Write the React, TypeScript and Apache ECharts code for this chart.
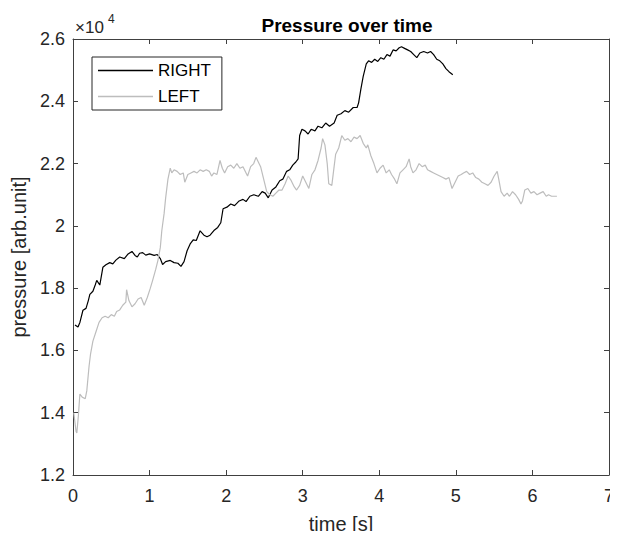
import React, { useEffect, useRef } from "react";
import * as echarts from "echarts";

const rightTime = [0.026, 0.065, 0.09, 0.13, 0.17, 0.2, 0.22, 0.26, 0.29, 0.31, 0.35, 0.39, 0.43, 0.48, 0.52, 0.56, 0.61, 0.67, 0.72, 0.77, 0.81, 0.84, 0.87, 0.91, 0.95, 1.0, 1.06, 1.1, 1.14, 1.17, 1.21, 1.27, 1.32, 1.37, 1.41, 1.45, 1.49, 1.53, 1.57, 1.61, 1.66, 1.71, 1.75, 1.79, 1.84, 1.89, 1.93, 1.96, 2.01, 2.06, 2.11, 2.17, 2.22, 2.26, 2.31, 2.36, 2.42, 2.47, 2.51, 2.55, 2.6, 2.65, 2.7, 2.74, 2.79, 2.83, 2.87, 2.91, 2.94, 2.96, 2.99, 3.03, 3.07, 3.11, 3.16, 3.2, 3.25, 3.3, 3.35, 3.41, 3.45, 3.5, 3.55, 3.6, 3.66, 3.71, 3.73, 3.76, 3.79, 3.83, 3.86, 3.9, 3.94, 3.98, 4.02, 4.06, 4.1, 4.14, 4.18, 4.22, 4.26, 4.29, 4.33, 4.37, 4.41, 4.45, 4.49, 4.53, 4.58, 4.63, 4.67, 4.71, 4.75, 4.79, 4.83, 4.87, 4.91, 4.96];
const rightPressure = [16820, 16750, 16900, 17290, 17350, 17600, 17800, 17900, 18100, 18250, 18100, 18670, 18750, 18820, 18780, 18900, 19000, 18950, 19100, 19180, 19050, 19000, 19120, 19140, 19060, 19100, 19050, 19080, 18950, 18760, 18850, 18890, 18820, 18800, 18700, 18850, 19200, 19420, 19550, 19530, 19840, 19700, 19650, 19700, 19850, 19950, 20100, 20550, 20600, 20700, 20650, 20800, 20850, 20780, 20950, 21000, 20950, 21100, 21050, 20900, 21150, 21250, 21450, 21500, 21750, 21800, 21950, 22050, 22150, 22900, 23100, 23050, 22950, 23100, 23050, 23200, 23150, 23300, 23200, 23300, 23550, 23600, 23700, 23650, 23800, 23800, 23950, 24400, 24800, 25200, 25300, 25250, 25350, 25280, 25400, 25350, 25500, 25450, 25650, 25620, 25720, 25750, 25700, 25650, 25600, 25500, 25400, 25550, 25600, 25550, 25600, 25500, 25350, 25300, 25200, 25050, 24950, 24850];

const leftTime = [0.01, 0.04, 0.05, 0.07, 0.09, 0.12, 0.16, 0.18, 0.21, 0.23, 0.26, 0.3, 0.34, 0.38, 0.42, 0.46, 0.5, 0.54, 0.57, 0.61, 0.65, 0.69, 0.7, 0.73, 0.77, 0.81, 0.85, 0.89, 0.93, 0.97, 1.01, 1.04, 1.08, 1.11, 1.14, 1.16, 1.19, 1.21, 1.24, 1.27, 1.29, 1.32, 1.36, 1.4, 1.44, 1.46, 1.5, 1.54, 1.58, 1.62, 1.66, 1.7, 1.74, 1.78, 1.81, 1.84, 1.88, 1.92, 1.95, 1.98, 2.02, 2.06, 2.1, 2.14, 2.18, 2.22, 2.26, 2.28, 2.32, 2.36, 2.39, 2.42, 2.45, 2.49, 2.53, 2.57, 2.61, 2.65, 2.69, 2.73, 2.77, 2.81, 2.85, 2.89, 2.92, 2.96, 3.0, 3.04, 3.08, 3.12, 3.16, 3.2, 3.24, 3.26, 3.29, 3.32, 3.34, 3.38, 3.41, 3.43, 3.47, 3.51, 3.55, 3.59, 3.63, 3.67, 3.71, 3.75, 3.79, 3.83, 3.85, 3.89, 3.93, 3.97, 4.01, 4.05, 4.09, 4.13, 4.16, 4.2, 4.23, 4.27, 4.31, 4.35, 4.39, 4.41, 4.44, 4.48, 4.52, 4.56, 4.6, 4.63, 4.67, 4.71, 4.75, 4.79, 4.83, 4.87, 4.91, 4.95, 4.99, 5.03, 5.07, 5.1, 5.14, 5.18, 5.22, 5.26, 5.3, 5.34, 5.38, 5.42, 5.46, 5.5, 5.54, 5.56, 5.59, 5.63, 5.67, 5.7, 5.74, 5.78, 5.82, 5.85, 5.87, 5.9, 5.94, 5.98, 6.02, 6.06, 6.1, 6.14, 6.18, 6.21, 6.25, 6.29, 6.32];
const leftPressure = [14000, 13400, 13350, 13900, 14600, 14500, 14450, 14700, 15500, 15900, 16300, 16600, 16900, 17050, 17100, 17050, 17150, 17100, 17250, 17300, 17450, 17550, 17950, 17600, 17400, 17500, 17650, 17700, 17450, 17700, 18000, 18250, 18600, 18900, 19300, 19850, 20400, 20900, 21500, 21850, 21700, 21800, 21750, 21650, 21700, 21400, 21650, 21700, 21750, 21700, 21800, 21750, 21800, 21750, 21600, 21700, 21650, 22100, 21850, 21700, 21900, 21950, 21850, 22000, 21850, 21900, 21700, 21600, 21900, 22000, 22200, 22050, 21900, 21500, 21100, 21000, 20950, 21050, 21150, 21150, 21350, 21600, 21450, 21250, 21150, 21300, 21600, 21400, 21200, 21650, 21800, 22100, 22500, 22800, 22600, 22000, 21350, 21300, 21900, 22300, 22500, 22900, 22750, 22800, 22700, 22850, 22800, 22900, 22650, 22500, 22600, 22250, 22000, 21700, 21850, 21950, 21700, 21800, 21650, 21500, 21350, 21700, 21800, 21900, 22150, 21900, 21700, 21800, 22000, 21900, 21950, 21800, 21750, 21700, 21650, 21600, 21550, 21500, 21550, 21200, 21400, 21600, 21650, 21700, 21750, 21650, 21700, 21550, 21500, 21400, 21350, 21300, 21400, 21600, 21750, 21500, 21100, 20950, 21050, 20950, 21100, 21000, 20850, 20700, 20800, 21150, 21200, 21050, 21100, 21000, 21050, 21100, 20950, 21000, 20950, 20950, 20950];

const seriesNames = ["RIGHT", "LEFT"];
const xTicks = { min: 0, max: 7, interval: 1 };
const yTicks = { min: 12000, max: 26000, interval: 2000 };

const FONT = "Liberation Sans, Arial, sans-serif";
const AX = "#404040";
const TXT = "#262626";

export default function App() {
  const ref = useRef<HTMLDivElement>(null);
  useEffect(() => {
    if (!ref.current) return;
    const chart = echarts.init(ref.current, undefined, { renderer: "svg" });
    const pair = (xs: number[], ys: number[]) => xs.map((x, i) => [x, ys[i]]);
    const yFmt = (v: number) => String(+(v / 10000).toFixed(1));
    const axisCommon = {
      axisLine: { show: true, onZero: false, lineStyle: { color: AX, width: 1 } },
      axisTick: { show: true, inside: true, length: 5, lineStyle: { color: AX } },
      splitLine: { show: false },
    };
    chart.setOption({
      animation: false,
      backgroundColor: "#ffffff",
      textStyle: { fontFamily: FONT },
      title: {
        text: "Pressure over time",
        left: 342,
        textAlign: "center",
        top: 11,
        textStyle: { fontSize: 19, fontWeight: "bold", color: "#000", fontFamily: FONT },
      },
      legend: {
        data: seriesNames,
        orient: "vertical",
        left: 92,
        top: 57,
        icon: "rect",
        itemWidth: 55,
        itemHeight: 1.5,
        itemGap: 7,
        padding: [4, 11, 4, 6],
        borderColor: "#262626",
        borderWidth: 1,
        backgroundColor: "#fff",
        textStyle: { fontSize: 17, color: "#000", lineHeight: 19, fontFamily: FONT },
      },
      grid: { left: 73, right: 9, top: 39, bottom: 60, containLabel: false },
      xAxis: [
        {
          type: "value",
          ...xTicks,
          position: "bottom",
          name: "time [s]",
          nameLocation: "middle",
          nameGap: 39,
          nameTextStyle: { fontSize: 20, color: TXT, fontFamily: FONT },
          axisLabel: { fontSize: 18, color: TXT, margin: 12, fontFamily: FONT },
          ...axisCommon,
        },
        {
          type: "value",
          ...xTicks,
          position: "top",
          axisLabel: { show: false },
          ...axisCommon,
        },
      ],
      yAxis: [
        {
          type: "value",
          ...yTicks,
          position: "left",
          name: "pressure [arb.unit]",
          nameLocation: "middle",
          nameGap: 39,
          nameTextStyle: { fontSize: 20, color: TXT, fontFamily: FONT },
          axisLabel: { fontSize: 18, color: TXT, margin: 8, formatter: yFmt, fontFamily: FONT },
          ...axisCommon,
        },
        {
          type: "value",
          ...yTicks,
          position: "right",
          axisLabel: { show: false },
          ...axisCommon,
        },
      ],
      graphic: [
        {
          type: "text",
          left: 75,
          top: 19,
          style: {
            text: "×10",
            fontSize: 17,
            fontFamily: FONT,
            fill: TXT,
          },
        },
        {
          type: "text",
          left: 108,
          top: 13,
          style: { text: "4", fontSize: 12, fontFamily: FONT, fill: TXT },
        },
      ],
      series: [
        {
          name: "RIGHT",
          type: "line",
          data: pair(rightTime, rightPressure),
          showSymbol: false,
          symbol: "none",
          lineStyle: { color: "#000000", width: 1.2 },
          itemStyle: { color: "#000000" },
        },
        {
          name: "LEFT",
          type: "line",
          data: pair(leftTime, leftPressure),
          showSymbol: false,
          symbol: "none",
          lineStyle: { color: "#bdbdbd", width: 1.2 },
          itemStyle: { color: "#bdbdbd" },
        },
      ],
    });
    return () => chart.dispose();
  }, []);
  return <div ref={ref} style={{ width: 618, height: 539, margin: -8 }} />;
}
